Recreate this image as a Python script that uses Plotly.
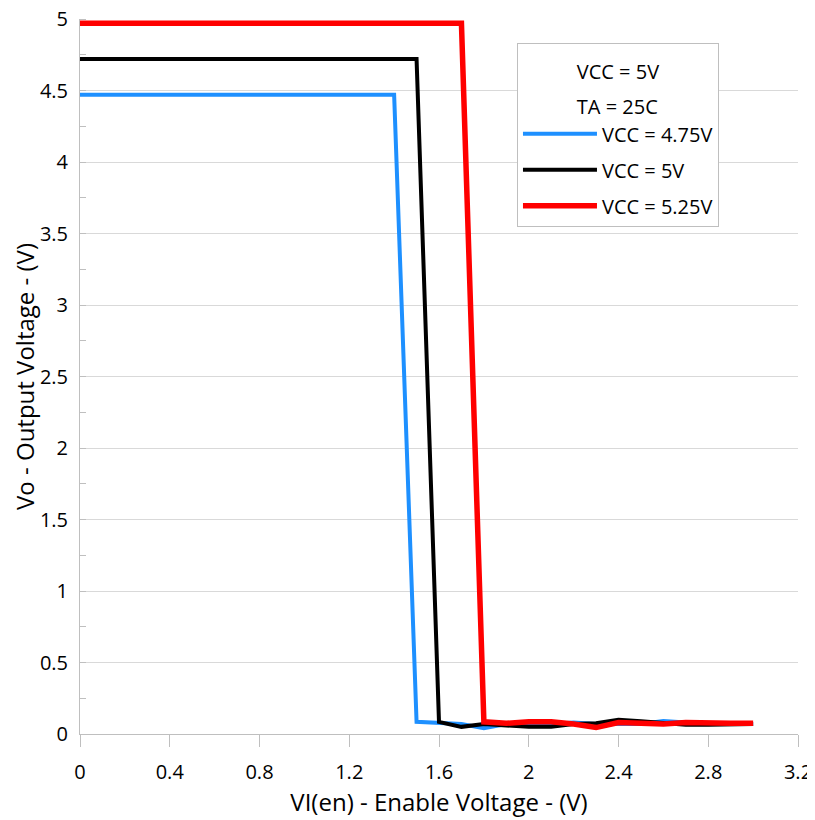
import plotly.graph_objects as go

x_vals = [round(i * 0.1, 1) for i in range(31)]

vcc_475 = [4.47]*15 + [0.085, 0.08, 0.07, 0.04, 0.07, 0.07, 0.07, 0.08, 0.07, 0.07, 0.07, 0.09, 0.08, 0.07, 0.07, 0.07]
vcc_5 = [4.72]*16 + [0.085, 0.05, 0.07, 0.06, 0.05, 0.05, 0.07, 0.075, 0.1, 0.09, 0.08, 0.065, 0.065, 0.065, 0.07]
vcc_525 = [4.97]*18 + [0.085, 0.075, 0.085, 0.085, 0.07, 0.045, 0.08, 0.075, 0.07, 0.08, 0.075, 0.075, 0.075]

series_names = ["VCC = 4.75V", "VCC = 5V", "VCC = 5.25V"]
series_colors = ["#1E90FF", "#000000", "#FF0000"]
series_widths = [4, 4, 5.5]

x_ticks = [0, 0.4, 0.8, 1.2, 1.6, 2.0, 2.4, 2.8, 3.2]
x_tick_text = ["0", "0.4", "0.8", "1.2", "1.6", "2", "2.4", "2.8", "3.2"]
y_ticks = [0, 0.5, 1, 1.5, 2, 2.5, 3, 3.5, 4, 4.5, 5]
y_tick_text = ["0", "0.5", "1", "1.5", "2", "2.5", "3", "3.5", "4", "4.5", "5"]

fig = go.Figure()
for i, (name, ys, c, w) in enumerate(zip(series_names, [vcc_475, vcc_5, vcc_525], series_colors, series_widths)):
    fig.add_trace(go.Scatter(x=x_vals, y=ys, mode="lines", name=name,
                             legendgroup=f"g{i}",
                             line=dict(color=c, width=w)))

font_family = "Open Sans, Liberation Sans, sans-serif"
legend_title = ("<span style='font-size:20px'>VCC = 5V</span><br>"
                "<span style='font-size:20px'>TA = 25C</span>")
fig.update_layout(
    width=807, height=812,
    margin=dict(l=72, r=17, t=11, b=86),
    plot_bgcolor="white", paper_bgcolor="white",
    font=dict(family=font_family, size=20, color="black"),
    showlegend=True,
    legend=dict(
        x=0.6086, y=0.9664, xanchor="left", yanchor="top",
        bordercolor="#BFBFBF", borderwidth=1, bgcolor="white",
        font=dict(size=20),
        title=dict(text=legend_title, side="top center", font=dict(size=27)),
        tracegroupgap=7, itemwidth=74,
        entrywidth=130, entrywidthmode="pixels",
    ),
    xaxis=dict(
        range=[0, 3.2], tickvals=x_ticks, ticktext=x_tick_text,
        showgrid=False, zeroline=False, automargin=False,
        showline=True, linecolor="#BFBFBF", linewidth=1,
        ticks="outside", ticklen=12, tickcolor="#BFBFBF",
        ticklabelstandoff=8, ticklabeloverflow="allow",
        title=dict(text="VI(en) - Enable Voltage - (V)", font=dict(size=24), standoff=4),
        tickfont=dict(size=20),
    ),
    yaxis=dict(
        range=[0, 5], tickvals=y_ticks, ticktext=y_tick_text,
        showgrid=True, gridcolor="#D9D9D9", gridwidth=1, zeroline=False, automargin=False,
        showline=True, linecolor="#BFBFBF", linewidth=1,
        ticks="", ticklabelstandoff=7, ticklabeloverflow="allow",
        minor=dict(dtick=0.25, ticks="inside", ticklen=6, tickcolor="#BFBFBF", showgrid=False),
        title=dict(text="Vo - Output Voltage - (V)", font=dict(size=24), standoff=26),
        tickfont=dict(size=20),
    ),
)

fig.write_html("out.html")
